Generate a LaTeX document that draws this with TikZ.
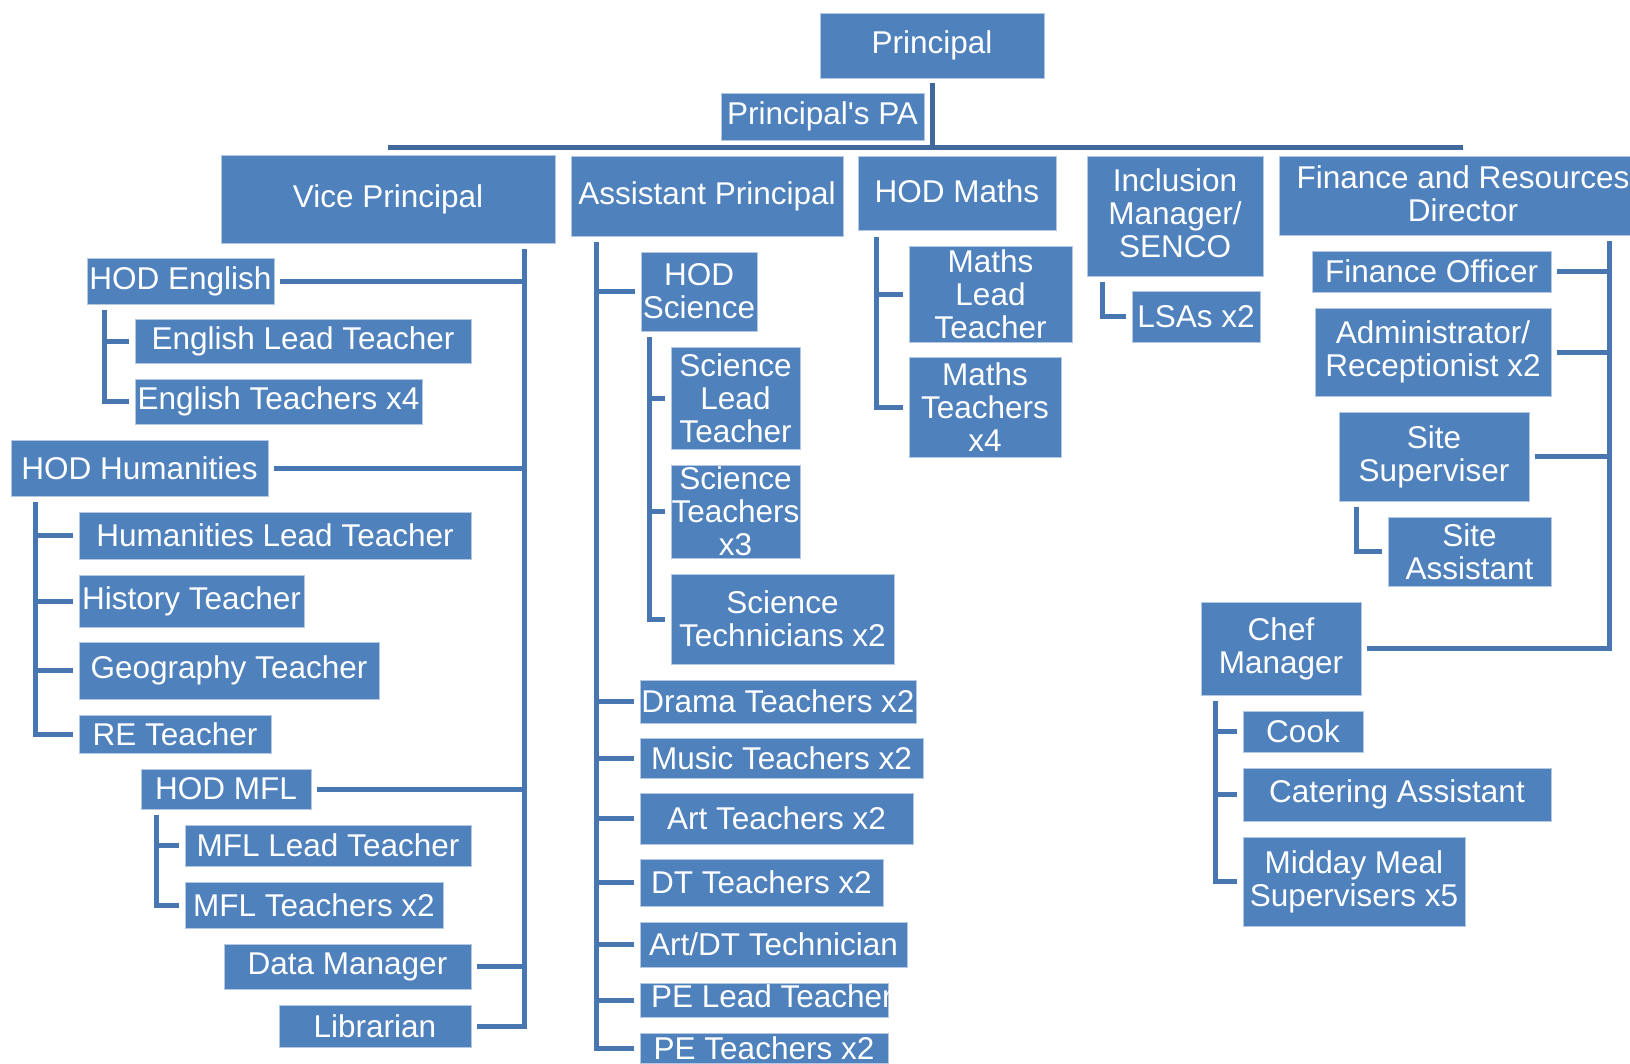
\documentclass[tikz,border=0pt]{standalone}
\usepackage{fontspec}
\setmainfont{Liberation Sans}
\definecolor{boxc}{RGB}{79,129,189}
\definecolor{linec}{RGB}{72,118,177}
\definecolor{barc}{RGB}{64,104,156}
\definecolor{edgec}{RGB}{180,200,228}
\newcommand\bx[7][]{\node[box, minimum width={#5-#3}, minimum height={#6-#4}, #1] (#2) at ({(#3+#5)/2},{(#4+#6)/2}) {#7};}
\begin{document}
\begin{tikzpicture}[x=1pt,y=-1pt,
  box/.style={fill=boxc, draw=edgec, line width=0.8pt, text=white, align=center,
    inner sep=0pt, outer sep=0pt, font=\fontsize{31.5}{33}\selectfont},
  conn/.style={draw=linec, line width=5pt, line join=miter},
  barline/.style={draw=barc, line width=5pt, line join=miter}]
\useasboundingbox (0,0) rectangle (1630,1063);
\clip (0,0) rectangle (1630,1063);
\fill[white] (0,0) rectangle (1630,1063);

% top level
\bx{pr}{820}{13}{1044}{78}{Principal}
\bx{pa}{721}{93}{924}{140}{Principal\textquotesingle s PA}
\bx{vp}{221}{155}{555}{243}{Vice Principal}
\bx{ap}{571}{156}{843}{236}{Assistant Principal}
\bx[text depth=4pt]{hm}{858}{156}{1056}{230}{HOD Maths}
\bx[text depth=6pt]{inc}{1087}{156}{1263}{276}{Inclusion\\Manager/\\SENCO}
\bx[text depth=4pt]{frd}{1279}{156}{1647}{235}{Finance and Resources\\Director}

% vice principal branch
\bx{hode}{87}{258}{274}{304}{HOD English}
\bx{elt}{135}{319}{471}{363}{English Lead Teacher}
\bx{et}{135}{379}{422}{424}{English Teachers x4}
\bx{hodh}{11}{440}{268}{496}{HOD Humanities}
\bx{hlt}{79}{512}{471}{559}{Humanities Lead Teacher}
\bx{hist}{79}{575}{304}{627}{History Teacher}
\bx{geo}{79}{642}{379}{699}{Geography Teacher}
\bx{re}{79}{715}{271}{753}{RE Teacher}
\bx{hodm}{141}{769}{311}{809}{HOD MFL}
\bx{mlt}{185}{825}{471}{866}{MFL Lead Teacher}
\bx{mt}{185}{882}{443}{928}{MFL Teachers x2}
\bx{dm}{224}{944}{471}{989}{Data Manager}
\bx{lib}{279}{1005}{471}{1047}{Librarian}

% assistant principal branch
\bx{hods}{641}{252}{757}{331}{HOD\\Science}
\bx{slt}{671}{347}{800}{449}{Science\\Lead\\Teacher}
\bx{st}{671}{465}{800}{558}{Science\\Teachers\\x3}
\bx{stech}{671}{574}{894}{664}{Science\\Technicians x2}
\bx{drama}{640}{680}{916}{723}{Drama Teachers x2}
\bx{music}{640}{738}{923}{778}{Music Teachers x2}
\bx{art}{640}{793}{913}{844}{Art Teachers x2}
\bx{dt}{640}{859}{883}{906}{DT Teachers x2}
\bx{adt}{640}{922}{907}{967}{Art/DT Technician}
\bx{pel}{640}{983}{888}{1017}{\makebox[226pt][l]{\raisebox{0pt}[14pt][0pt]{PE Lead Teacher}}}
\bx{pet}{640}{1033}{888}{1063}{PE Teachers x2}

% maths and inclusion
\bx{mlt2}{909}{246}{1072}{342}{Maths\\Lead\\Teacher}
\bx{mtx}{909}{357}{1061}{457}{Maths\\Teachers\\x4}
\bx{lsa}{1132}{291}{1260}{342}{LSAs x2}

% finance branch
\bx{fo}{1312}{251}{1551}{292}{Finance Officer}
\bx{adm}{1315}{308}{1551}{396}{Administrator/\\Receptionist x2}
\bx{ss}{1339}{412}{1529}{501}{Site\\Superviser}
\bx{sa}{1388}{517}{1551}{586}{Site\\Assistant}
\bx{chef}{1201}{602}{1361}{695}{Chef\\Manager}
\bx{cook}{1243}{711}{1363}{752}{Cook}
\bx{cat}{1243}{768}{1551}{821}{Catering Assistant}
\bx{mms}{1243}{837}{1465}{926}{Midday Meal\\Supervisers x5}

% spine coordinates
\coordinate (by) at (0,147);
\coordinate (vptop) at (524,249);
\coordinate (engtop) at (104,310);
\coordinate (humtop) at (35,502);
\coordinate (mfltop) at (156,815);
\coordinate (aptop) at (596,242);
\coordinate (scitop) at (649,337);
\coordinate (mathtop) at (876,237);
\coordinate (inctop) at (1102,282);
\coordinate (fintop) at (1609,241);
\coordinate (sitetop) at (1356,507);
\coordinate (cheftop) at (1215,701);

% top connectors
\draw[barline] ([yshift=-5pt]pr.south) -- (pr.south |- by);
\draw[barline] (vp.north |- by) -- (frd.north |- by);

% vice principal
\draw[conn] (vptop) |- ([xshift=6pt]lib.east);
\foreach \n in {hode,hodh,hodm,dm}
  \draw[conn] ([xshift=6pt]\n.east) -- (\n.east -| vptop);
\draw[conn] (engtop) |- ([xshift=-6pt]et.west);
\draw[conn] (elt.west -| engtop) -- ([xshift=-6pt]elt.west);
\draw[conn] (humtop) |- ([xshift=-6pt]re.west);
\foreach \n in {hlt,hist,geo}
  \draw[conn] (\n.west -| humtop) -- ([xshift=-6pt]\n.west);
\draw[conn] (mfltop) |- ([xshift=-6pt]mt.west);
\draw[conn] (mlt.west -| mfltop) -- ([xshift=-6pt]mlt.west);

% assistant principal
\draw[conn] (aptop) |- ([xshift=-6pt]pet.west);
\foreach \n in {hods,drama,music,art,dt,adt,pel}
  \draw[conn] (\n.west -| aptop) -- ([xshift=-6pt]\n.west);
\draw[conn] (scitop) |- ([xshift=-6pt]stech.west);
\foreach \n in {slt,st}
  \draw[conn] (\n.west -| scitop) -- ([xshift=-6pt]\n.west);

% maths, inclusion
\draw[conn] (mathtop) |- ([xshift=-6pt]mtx.west);
\draw[conn] (mlt2.west -| mathtop) -- ([xshift=-6pt]mlt2.west);
\draw[conn] (inctop) |- ([xshift=-6pt]lsa.west);

% finance
\draw[conn] (fintop) |- ([xshift=6pt]chef.east);
\foreach \n in {fo,adm,ss}
  \draw[conn] ([xshift=6pt]\n.east) -- (\n.east -| fintop);
\draw[conn] (sitetop) |- ([xshift=-6pt]sa.west);
\draw[conn] (cheftop) |- ([xshift=-6pt]mms.west);
\foreach \n in {cook,cat}
  \draw[conn] (\n.west -| cheftop) -- ([xshift=-6pt]\n.west);
\end{tikzpicture}
\end{document}
